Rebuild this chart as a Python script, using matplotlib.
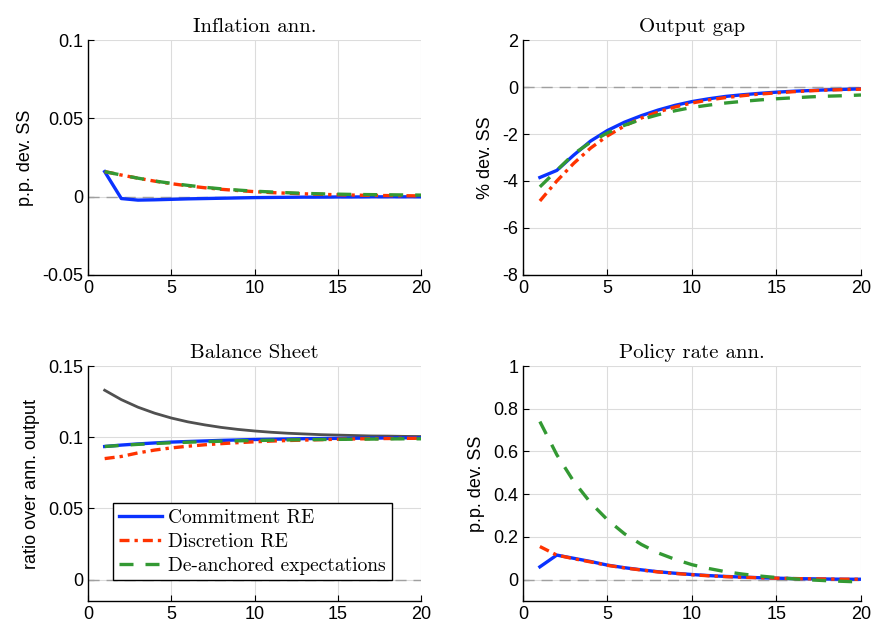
import matplotlib
matplotlib.use("Agg")
import matplotlib.pyplot as plt

periods = list(range(1, 21))

# Inflation ann. (p.p. dev. SS)
infl_commit = [0.016, -0.0012, -0.0022, -0.002, -0.0017, -0.0014, -0.0012, -0.001, -0.0008, -0.0006,
               -0.0005, -0.0004, -0.0003, -0.0003, -0.0002, -0.0002, -0.0001, -0.0001, -0.0001, -0.0001]
infl_discr = [0.016, 0.0138, 0.0118, 0.0099, 0.0083, 0.0069, 0.0057, 0.0047, 0.0039, 0.0032,
              0.0026, 0.0022, 0.0018, 0.0015, 0.0012, 0.001, 0.0008, 0.0007, 0.0006, 0.0005]
infl_deanch = [0.016, 0.0138, 0.0118, 0.01, 0.0085, 0.0072, 0.006, 0.005, 0.0042, 0.0035,
               0.003, 0.0025, 0.0021, 0.0018, 0.0016, 0.0014, 0.0013, 0.0012, 0.0011, 0.001]

# Output gap (% dev. SS)
gap_commit = [-3.85, -3.55, -2.9, -2.3, -1.85, -1.5, -1.22, -0.98, -0.78, -0.62,
              -0.5, -0.4, -0.33, -0.27, -0.22, -0.18, -0.15, -0.12, -0.1, -0.08]
gap_discr = [-4.85, -4.0, -3.25, -2.6, -2.08, -1.66, -1.32, -1.06, -0.85, -0.68,
             -0.55, -0.45, -0.37, -0.3, -0.25, -0.2, -0.16, -0.13, -0.11, -0.09]
gap_deanch = [-4.25, -3.55, -2.85, -2.35, -1.95, -1.63, -1.38, -1.18, -1.01, -0.87,
              -0.77, -0.68, -0.61, -0.55, -0.5, -0.46, -0.42, -0.39, -0.37, -0.34]

# Balance sheet (ratio over ann. output)
bs_ref = [0.133, 0.1264, 0.1211, 0.1169, 0.1135, 0.1108, 0.1087, 0.1069, 0.1055, 0.1044,
          0.1035, 0.1028, 0.1023, 0.1018, 0.1015, 0.1012, 0.1009, 0.1008, 0.1006, 0.1005]
bs_commit = [0.0935, 0.0945, 0.0953, 0.096, 0.0966, 0.097, 0.0974, 0.0978, 0.0981, 0.0984,
             0.0986, 0.0988, 0.099, 0.0991, 0.0992, 0.0993, 0.0994, 0.0995, 0.0996, 0.0996]
bs_discr = [0.085, 0.0865, 0.089, 0.091, 0.0925, 0.0937, 0.0947, 0.0955, 0.0962, 0.0968,
            0.0973, 0.0977, 0.098, 0.0983, 0.0986, 0.0988, 0.099, 0.0991, 0.0992, 0.0993]
bs_deanch = [0.0935, 0.0943, 0.095, 0.0956, 0.0961, 0.0965, 0.0969, 0.0972, 0.0975, 0.0977,
             0.0979, 0.0981, 0.0983, 0.0984, 0.0985, 0.0986, 0.0987, 0.0988, 0.0989, 0.0989]

# Policy rate ann. (p.p. dev. SS)
rate_commit = [0.06, 0.115, 0.1, 0.085, 0.068, 0.056, 0.046, 0.037, 0.03, 0.024,
               0.019, 0.015, 0.012, 0.009, 0.007, 0.005, 0.004, 0.003, 0.002, 0.002]
rate_discr = [0.155, 0.115, 0.098, 0.083, 0.067, 0.055, 0.045, 0.036, 0.029, 0.023,
              0.018, 0.014, 0.011, 0.009, 0.007, 0.005, 0.004, 0.003, 0.002, 0.002]
rate_deanch = [0.74, 0.585, 0.46, 0.36, 0.28, 0.215, 0.165, 0.125, 0.095, 0.07,
               0.052, 0.037, 0.026, 0.017, 0.01, 0.004, -0.001, -0.005, -0.008, -0.011]

labels = ["Commitment RE", "Discretion RE", "De-anchored expectations"]
c_blue, c_red, c_green, c_gray = "#0a32ff", "#ff3300", "#339933", "#505050"

panels = [
    ("Inflation ann.", "p.p. dev. SS", infl_commit, infl_discr, infl_deanch,
     (-0.05, 0.1), [-0.05, 0, 0.05, 0.1], ["-0.05", "0", "0.05", "0.1"]),
    ("Output gap", "% dev. SS", gap_commit, gap_discr, gap_deanch,
     (-8, 2), [-8, -6, -4, -2, 0, 2], ["-8", "-6", "-4", "-2", "0", "2"]),
    ("Balance Sheet", "ratio over ann. output", bs_commit, bs_discr, bs_deanch,
     (-0.015, 0.15), [0, 0.05, 0.1, 0.15], ["0", "0.05", "0.1", "0.15"]),
    ("Policy rate ann.", "p.p. dev. SS", rate_commit, rate_discr, rate_deanch,
     (-0.1, 1), [0, 0.2, 0.4, 0.6, 0.8, 1], ["0", "0.2", "0.4", "0.6", "0.8", "1"]),
]

positions = [
    [0.1006, 0.5635, 0.3806, 0.373],
    [0.5977, 0.5635, 0.3863, 0.373],
    [0.1006, 0.046, 0.3806, 0.373],
    [0.5977, 0.046, 0.3863, 0.373],
]

fig = plt.figure(figsize=(8.75, 6.3), dpi=100)
tick_font = "Liberation Sans"
serif = "cmr10"

for i, (title, ylab, yc, yd, ya, ylim, yt, ytl) in enumerate(panels):
    ax = fig.add_axes(positions[i])
    ax.axhline(0, color="#a0a0a0", lw=1.0, ls=(0, (8, 5)), zorder=1)
    if i == 2:
        ax.plot(periods, bs_ref, color=c_gray, lw=2.0, zorder=2)
    l1, = ax.plot(periods, yc, color=c_blue, lw=2.4, ls="-", zorder=3, label=labels[0])
    l2, = ax.plot(periods, yd, color=c_red, lw=2.4, ls=(0, (3, 1.5, 1, 1.5)), zorder=4, label=labels[1])
    l3, = ax.plot(periods, ya, color=c_green, lw=2.4, ls=(0, (4.2, 3.6)), zorder=5, label=labels[2])
    ax.set_xlim(0, 20)
    ax.set_ylim(*ylim)
    ax.set_xticks([0, 5, 10, 15, 20])
    ax.set_yticks(yt)
    ax.set_yticklabels(ytl)
    ax.grid(True, color="#dcdcdc", lw=0.8)
    ax.set_axisbelow(True)
    for s in ["top", "right"]:
        ax.spines[s].set_visible(False)
    for s in ["left", "bottom"]:
        ax.spines[s].set_linewidth(1.0)
    ax.tick_params(direction="in", length=4, labelsize=13, width=0.8)
    for lab in ax.get_xticklabels() + ax.get_yticklabels():
        lab.set_fontfamily(tick_font)
    ax.set_title(title, fontfamily=serif, fontsize=15, pad=6)
    ax.set_ylabel(ylab, fontfamily=tick_font, fontsize=13, labelpad=6)
    if i == 2:
        leg = ax.legend(handles=[l1, l2, l3], loc="lower left", bbox_to_anchor=(0.075, 0.088),
                        prop={"family": serif, "size": 14}, frameon=True, fancybox=False,
                        edgecolor="black", framealpha=1, handlelength=2.2,
                        borderpad=0.3, labelspacing=0.3, handletextpad=0.35,
                        borderaxespad=0.0)
        leg.get_frame().set_linewidth(1.0)

fig.savefig("out.png", dpi=100)
